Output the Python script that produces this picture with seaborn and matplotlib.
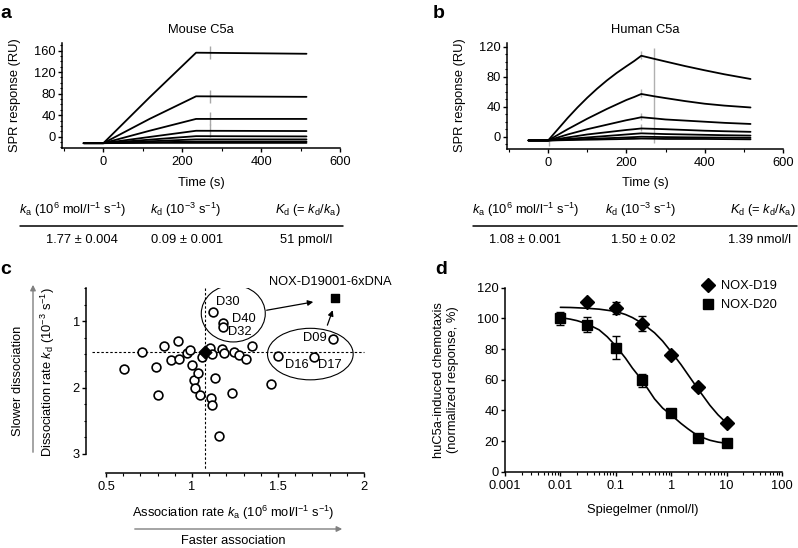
import matplotlib
matplotlib.use("Agg")
import matplotlib.pyplot as plt
import seaborn as sns
import pandas as pd
from matplotlib.patches import Ellipse, FancyArrowPatch
from matplotlib.lines import Line2D
from matplotlib.ticker import MultipleLocator, LogLocator, NullFormatter, FixedLocator, FixedFormatter

# ---------------- data ----------------
# panel a : mouse C5a sensorgrams (RU)
mouse_time = [-50, 0, 117, 235, 515]
mouse_c1 = [-12, -12, 73, 156, 154]
mouse_c2 = [-12, -12, 33, 75, 74]
mouse_c3 = [-12, -12, 11, 33, 33]
mouse_c4 = [-12, -12, -0.5, 11, 10.5]
mouse_c5 = [-12, -12, -5.5, 1, 0.5]
mouse_c6 = [-12, -12, -8.5, -5, -5]
mouse_c7 = [-12, -12, -10.5, -9, -9]
mouse_c8 = [-12, -12, -11.5, -11.5, -11.5]
mouse_spike_levels = [156, 75, 33, 11]

# panel b : human C5a sensorgrams (RU)
human_time = [-50, 0, 25, 50, 75, 100, 125, 150, 175, 200, 220, 238, 270, 300, 350, 400, 450, 517]
human_c1 = [-5, -5, 10, 25, 39, 52, 64, 75, 85, 94, 101, 108, 104, 100.3, 94.2, 88.6, 83.3, 77]
human_c2 = [-5, -5, 2.5, 10, 17, 24, 30.5, 37, 43, 49, 53, 57, 54, 51.5, 47.5, 44, 41.5, 39]
human_c3 = [-5, -5, -1, 3, 6.5, 10, 13, 16, 19, 22, 24, 26, 24.5, 23, 21.5, 20, 18.5, 17]
human_c4 = [-5, -5, -3, -1, 1, 3, 4.5, 6, 7.5, 9, 10, 11, 10.5, 10, 9, 8, 7.3, 6.5]
human_c5 = [-5, -5, -4, -3, -2, -1, 0, 1, 2, 3, 3.8, 4.5, 4, 3.5, 3, 2.5, 2, 1.5]
human_c6 = [-5, -5, -4.5, -4, -3.5, -3, -2.5, -2, -1.5, -1, -0.5, 0, -0.3, -0.5, -0.8, -1, -1.2, -1.5]
human_c7 = [-5, -5, -4.8, -4.5, -4.2, -4, -3.8, -3.5, -3.3, -3, -2.8, -2.5, -2.7, -3, -3, -3, -3.2, -3.5]

# kinetic tables
table_headers = [r"$k_\mathrm{a}$ (10$^6$ mol/l$^{-1}$ s$^{-1}$)",
                 r"$k_\mathrm{d}$ (10$^{-3}$ s$^{-1}$)",
                 r"$K_\mathrm{d}$ (= $k_\mathrm{d}$/$k_\mathrm{a}$)"]
mouse_table = ["1.77 \u00b1 0.004", "0.09 \u00b1 0.001", "51 pmol/l"]
human_table = ["1.08 \u00b1 0.001", "1.50 \u00b1 0.02", "1.39 nmol/l"]

# panel c : screening kinetics
ka_vals = [0.605, 0.707, 0.79, 0.80, 0.837, 0.876, 0.917, 0.923, 0.969, 0.988, 0.998, 1.012,
           1.037, 1.017, 1.047, 1.06, 1.105, 1.118, 1.11, 1.118, 1.134, 1.159, 1.124, 1.178,
           1.178, 1.173, 1.188, 1.23, 1.246, 1.271, 1.312, 1.349, 1.457, 1.5, 1.709, 1.818]
kd_vals = [1.72, 1.47, 1.69, 2.11, 1.375, 1.585, 1.296, 1.575, 1.476, 1.435, 1.66, 1.886,
           1.776, 2.01, 2.11, 1.545, 1.41, 1.496, 2.15, 2.26, 1.85, 2.73, 0.86, 1.02,
           1.085, 1.425, 1.476, 2.08, 1.46, 1.51, 1.575, 1.38, 1.946, 1.53, 1.545, 1.275]
ref_ka, ref_kd = 1.075, 1.465
best_ka, best_kd = 1.831, 0.65
clone_labels = ["D30", "D40", "D32", "D09", "D16", "D17"]
clone_label_pos = [(1.21, 0.71), (1.30, 0.96), (1.28, 1.16), (1.715, 1.26), (1.609, 1.66), (1.80, 1.66)]

# panel d : chemotaxis inhibition
d19_conc = [0.03, 0.1, 0.3, 1, 3, 10]
d19_resp = [111, 107, 96.5, 76, 55, 32]
d19_err = [0, 4, 5, 2, 1.5, 1.5]
d20_conc = [0.01, 0.03, 0.1, 0.3, 1, 3, 10]
d20_resp = [100, 96, 81, 59.5, 38, 22, 18.5]
d20_err = [4, 5, 7.5, 4.5, 2, 1.5, 2]
fit_conc = [0.01, 0.015, 0.02, 0.03, 0.05, 0.07, 0.1, 0.15, 0.2, 0.3, 0.5, 0.7, 1, 1.5, 2, 3, 5, 7, 10]
d19_fit = [107.2, 107.1, 106.9, 106.6, 106, 105.3, 104.5, 102.5, 100.5, 96.8, 90.6, 85.2, 78.2,
           69.9, 63.4, 54.3, 43.3, 37.1, 31.7]
d20_fit = [100.5, 99.5, 98.5, 96.5, 92.5, 88, 82, 74, 67.5, 59.5, 47.5, 41.5, 37, 31.5, 28,
           23.5, 20.5, 19.3, 18.5]

# ---------------- style ----------------
FS = 9.3
sns.set_theme(style="ticks")
plt.rcParams.update({
    "font.family": ["Liberation Sans", "DejaVu Sans"],
    "font.size": FS,
    "mathtext.fontset": "custom",
    "mathtext.rm": "Liberation Sans",
    "mathtext.it": "Liberation Sans:italic",
    "mathtext.bf": "Liberation Sans:bold",
    "axes.linewidth": 1.1,
    "xtick.major.width": 1.0, "ytick.major.width": 1.0,
    "xtick.minor.width": 0.8, "ytick.minor.width": 0.8,
    "xtick.major.size": 3, "ytick.major.size": 3,
    "xtick.minor.size": 1.8, "ytick.minor.size": 1.8,
    "xtick.labelsize": FS, "ytick.labelsize": FS,
    "xtick.color": "black", "ytick.color": "black",
    "axes.edgecolor": "black", "text.color": "black",
})

W, H = 798, 548
fig = plt.figure(figsize=(W / 100, H / 100), dpi=100)


def fx(x):
    return x / W


def fy(y):
    return 1 - y / H


def add_axes_px(x0, y0, x1, y1):
    return fig.add_axes([fx(x0), fy(y1), (x1 - x0) / W, (y1 - y0) / H])


def ftext(x, y, s, **kw):
    kw.setdefault("ha", "center")
    kw.setdefault("va", "center")
    fig.text(fx(x), fy(y), s, **kw)


# ---------------- panels a & b ----------------
def sensor_panel(box, times, curves, ylim, yticks, title, title_x, ylabel_x, spikes):
    ax = add_axes_px(*box)
    spikes(ax)
    rows = []
    for i, c in enumerate(curves):
        for t, v in zip(times, c):
            rows.append({"time": t, "resp": v, "curve": i})
    df = pd.DataFrame(rows)
    sns.lineplot(data=df, x="time", y="resp", units="curve", estimator=None,
                 color="black", lw=1.3, ax=ax, zorder=3)
    ax.set_xlim(-105, 600)
    ax.set_ylim(*ylim)
    ax.set_xticks([0, 200, 400, 600])
    ax.set_yticks(yticks)
    ax.xaxis.set_minor_locator(MultipleLocator(100))
    ax.yaxis.set_minor_locator(MultipleLocator(10))
    ax.tick_params(axis="x", which="major", pad=3.0)
    ax.tick_params(axis="y", which="major", pad=1.5)
    ax.set_xlabel("")
    ax.set_ylabel("")
    sns.despine(ax=ax)
    ftext(title_x, 30, title)
    ftext(title_x, 183, "Time (s)")
    ftext(ylabel_x, 95, "SPR response (RU)", rotation=90)
    return ax


def mouse_spikes(ax):
    ax.vlines([270] * len(mouse_spike_levels), [v - 12 for v in mouse_spike_levels],
              [v + 12 for v in mouse_spike_levels], color="#a8a8a8", lw=1.0, zorder=2)


def human_spikes(ax):
    ax.vlines([270], [-9], [118], color="#b0b0b0", lw=1.0, zorder=2)
    peaks = [human_c1[11], human_c2[11], human_c3[11], human_c4[11]]
    ax.vlines([238] * 4, [p - 4 for p in peaks], [p + 6 for p in peaks], color="#b0b0b0", lw=1.0, zorder=2)
    ax.vlines([2], [-12], [-4], color="#b0b0b0", lw=1.0, zorder=2)


sensor_panel((62, 43, 340, 148), mouse_time,
             [mouse_c1, mouse_c2, mouse_c3, mouse_c4, mouse_c5, mouse_c6, mouse_c7, mouse_c8],
             (-21, 174), [0, 40, 80, 120, 160], "Mouse C5a", 201, 15, mouse_spikes)
sensor_panel((507, 43, 783, 149), human_time,
             [human_c1, human_c2, human_c3, human_c4, human_c5, human_c6, human_c7],
             (-16.4, 125), [0, 40, 80, 120], "Human C5a", 645, 460, human_spikes)


# tables
def table(hdr_x, line_x, val_x, values):
    for x, s in zip(hdr_x, table_headers):
        ftext(x, 210, s)
    fig.add_artist(Line2D([fx(line_x[0]), fx(line_x[1])], [fy(226), fy(226)],
                          transform=fig.transFigure, color="black", lw=1.1))
    for x, s in zip(val_x, values):
        ftext(x, 240, s)


table([73, 185.5, 308], (20, 343), [82, 187, 306], mouse_table)
table([525.5, 641, 762.5], (473, 797), [525, 643, 760], human_table)

# ---------------- panel c ----------------
axc = add_axes_px(106, 288, 364, 454)
sns.scatterplot(x=ka_vals, y=kd_vals, ax=axc, s=40, facecolor="white", edgecolor="black",
                linewidth=1.2, zorder=4)
axc.scatter([ref_ka], [ref_kd], marker="D", s=42, color="black", zorder=5)
axc.scatter([best_ka], [best_kd], marker="s", s=38, color="black", zorder=5, clip_on=False)
axc.plot([ref_ka, ref_ka], [0.5, 3.24], ls=(0, (2.2, 1.8)), lw=0.8, color="black", clip_on=False, zorder=1)
axc.plot([0.42, 2.0], [ref_kd, ref_kd], ls=(0, (2.2, 1.8)), lw=0.8, color="black", clip_on=False, zorder=1)
axc.add_patch(Ellipse((1.24, 0.885), 0.372, 0.855, fill=False, ec="black", lw=0.8, zorder=2))
axc.add_patch(Ellipse((1.688, 1.495), 0.498, 0.776, fill=False, ec="black", lw=0.8, zorder=2))
arrow_kw = dict(arrowstyle="-|>", color="black", lw=0.9, mutation_scale=8, shrinkA=0, shrinkB=0)
axc.annotate("", xy=(1.705, 0.71), xytext=(1.434, 0.835), arrowprops=arrow_kw)
axc.annotate("", xy=(1.818, 0.835), xytext=(1.787, 1.06), arrowprops=arrow_kw)
for lab, (x, y) in zip(clone_labels, clone_label_pos):
    axc.text(x, y, lab, ha="center", va="center", fontsize=FS, zorder=6)
axc.text(1.448, 0.41, "NOX-D19001-6xDNA", ha="left", va="center", fontsize=FS)
axc.set_xlim(0.5, 2.0)
axc.set_ylim(3, 0.5)
axc.set_xticks([0.5, 1, 1.5, 2])
axc.set_xticklabels(["0.5", "1", "1.5", "2"])
axc.set_yticks([1, 2, 3])
axc.xaxis.set_minor_locator(MultipleLocator(0.1))
axc.yaxis.set_minor_locator(MultipleLocator(0.25))
axc.tick_params(axis="x", which="major", pad=3.0)
axc.tick_params(axis="y", which="major", pad=1.5)
sns.despine(ax=axc)
axc.spines["left"].set_position(("outward", 14.4))
axc.spines["bottom"].set_position(("outward", 13.7))

ftext(48, 372, r"Dissociation rate $k_\mathrm{d}$ (10$^{-3}$ s$^{-1}$)", rotation=90)
ftext(18, 381, "Slower dissociation", rotation=90)
fig.add_artist(FancyArrowPatch((fx(33), fy(455)), (fx(33), fy(282)),
               transform=fig.transFigure, arrowstyle="-|>", mutation_scale=8, color="#808080", lw=1.0))
ftext(233, 513, r"Association rate $k_\mathrm{a}$ (10$^6$ mol/l$^{-1}$ s$^{-1}$)")
ftext(233, 541, "Faster association")
fig.add_artist(FancyArrowPatch((fx(132), fy(529)), (fx(345), fy(529)),
               transform=fig.transFigure, arrowstyle="-|>", mutation_scale=8, color="#808080", lw=1.0))

# ---------------- panel d ----------------
axd = add_axes_px(505, 287.7, 782, 471.7)
axd.set_xscale("log")
sns.lineplot(x=fit_conc, y=d19_fit, color="black", lw=1.2, ax=axd, zorder=2)
sns.lineplot(x=fit_conc, y=d20_fit, color="black", lw=1.2, ax=axd, zorder=2)
axd.errorbar(d19_conc, d19_resp, yerr=d19_err, fmt="D", ms=7.5, color="black", ecolor="black",
             elinewidth=1.0, capsize=2.6, capthick=1.0, zorder=3)
axd.errorbar(d20_conc, d20_resp, yerr=d20_err, fmt="s", ms=7.5, color="black", ecolor="black",
             elinewidth=1.0, capsize=2.6, capthick=1.0, zorder=3)
axd.set_xlim(0.001, 100)
axd.set_ylim(0, 120)
axd.set_yticks([0, 20, 40, 60, 80, 100, 120])
axd.xaxis.set_major_locator(FixedLocator([0.001, 0.01, 0.1, 1, 10, 100]))
axd.xaxis.set_major_formatter(FixedFormatter(["0.001", "0.01", "0.1", "1", "10", "100"]))
axd.xaxis.set_minor_locator(LogLocator(base=10, subs=range(2, 10)))
axd.xaxis.set_minor_formatter(NullFormatter())
axd.tick_params(axis="x", which="major", pad=3.0)
axd.tick_params(axis="y", which="major", pad=1.5)
sns.despine(ax=axd)
leg_handles = [Line2D([], [], marker="D", ls="none", color="black", ms=7.5),
               Line2D([], [], marker="s", ls="none", color="black", ms=7.5)]
axd.legend(leg_handles, ["NOX-D19", "NOX-D20"], loc="upper left",
           bbox_to_anchor=(fx(702), fy(280)), bbox_transform=fig.transFigure, frameon=False,
           handlelength=1.0, handletextpad=0.5, labelspacing=0.55, borderpad=0, borderaxespad=0,
           fontsize=FS)
ftext(446, 380, "huC5a-induced chemotaxis\n(normalized response, %)", rotation=90, linespacing=1.25)
ftext(643, 510, "Spiegelmer (nmol/l)")

# ---------------- panel letters ----------------
for lab, x, y in [("a", 0, 18), ("b", 433, 18), ("c", 0, 273.5), ("d", 435, 274)]:
    fig.text(fx(x), fy(y), lab, fontsize=14, fontweight="bold", ha="left", va="baseline")

fig.savefig("out.png", dpi=100)
